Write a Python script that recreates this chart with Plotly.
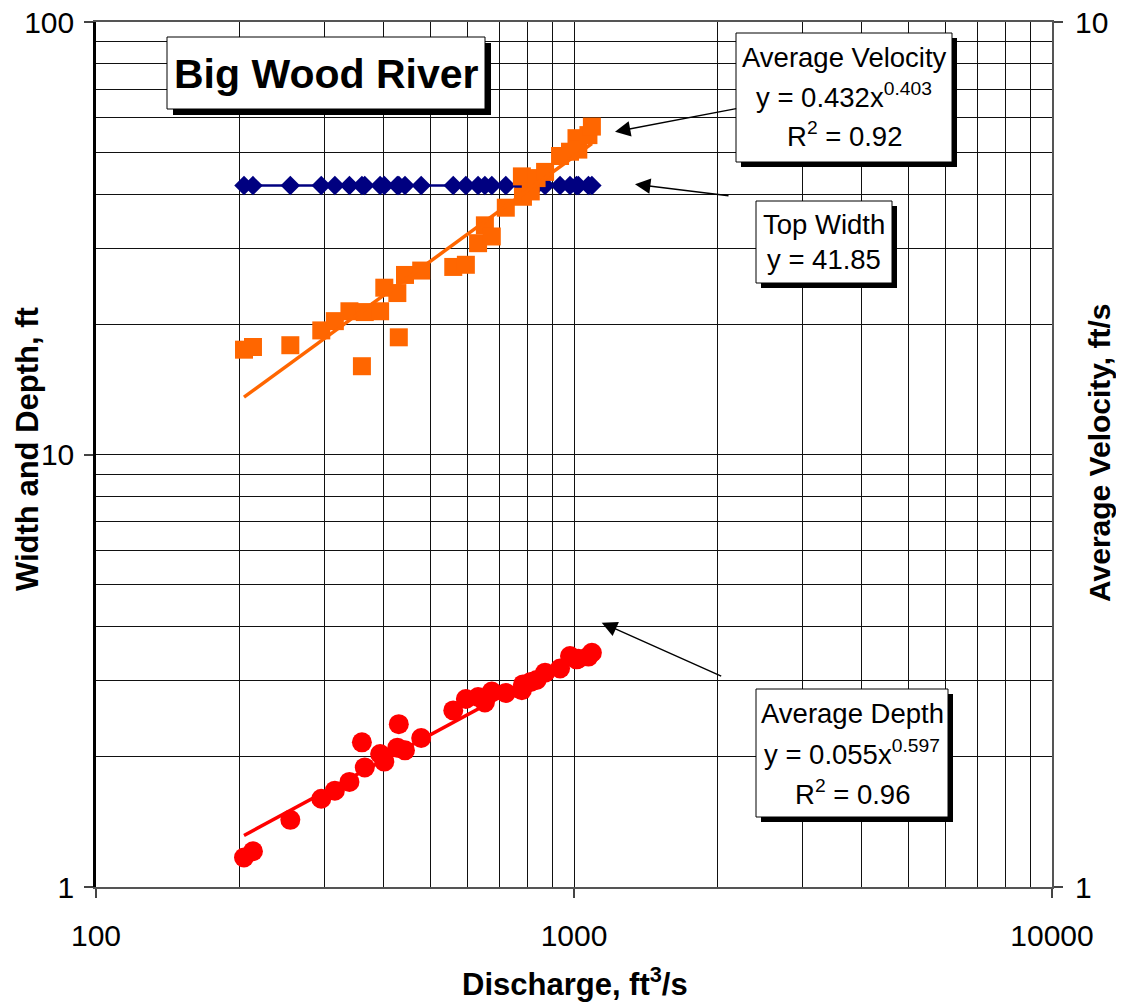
import plotly.graph_objects as go

# ---------------- data ----------------
discharge = [204, 213, 255, 296, 316, 339, 360, 365, 393, 401, 427, 430, 443, 479,
             559, 594, 630, 651, 673, 720, 778, 782, 812, 835, 870, 935, 981, 1012,
             1021, 1072, 1090]
top_width = [41.85] * len(discharge)
avg_depth = [1.17, 1.21, 1.43, 1.60, 1.67, 1.75, 2.16, 1.89, 2.03, 1.95, 2.10, 2.38, 2.07, 2.21,
             2.56, 2.72, 2.75, 2.67, 2.83, 2.81, 2.85, 2.94, 2.98, 3.01, 3.13, 3.20, 3.42, 3.36,
             3.37, 3.41, 3.48]
avg_velocity = [4.18, 4.21, 4.23, 4.40, 4.51, 4.63, 4.00, 4.62, 4.63, 4.93, 4.86, 4.32, 5.10, 5.16,
                5.21, 5.24, 5.55, 5.82, 5.65, 6.10, 6.63, 6.28, 6.37, 6.60, 6.71, 7.00, 7.08, 7.34,
                7.12, 7.40, 7.57]

# trend line coefficients shown on the chart (power fits)
vel_coef, vel_exp = 0.432, 0.403
dep_coef, dep_exp = 0.055, 0.597
trend_x = [min(discharge), max(discharge)]
vel_trend = [vel_coef * q ** vel_exp for q in trend_x]
dep_trend = [dep_coef * q ** dep_exp for q in trend_x]

x_major = [100, 1000, 10000]
x_minor = [200, 300, 400, 500, 600, 700, 800, 900, 2000, 3000, 4000, 5000, 6000, 7000, 8000, 9000]
y_major = [1, 10, 100]
y_minor = [2, 3, 4, 5, 6, 7, 8, 9, 20, 30, 40, 50, 60, 70, 80, 90]
y2_major = [1, 10]

# ---------------- geometry helpers ----------------
OFF = 8                       # page body margin added by the html page
W, H = 1124 - OFF, 1003 - OFF
# plot area in page pixels
L, R, T, B = 96, 1052, 22, 887


def px(x):
    return (x - L) / (R - L)


def py(y):
    return (B - y) / (B - T)


FONT = "Liberation Sans, Arial, sans-serif"
TICK = 30

fig = go.Figure()

fig.add_trace(go.Scatter(
    x=discharge, y=top_width, mode="lines+markers",
    line=dict(color="#000080", width=2.5),
    marker=dict(symbol="diamond", size=15, color="#000080"),
    showlegend=False))

fig.add_trace(go.Scatter(
    x=discharge, y=avg_depth, mode="markers",
    marker=dict(symbol="circle", size=20, color="#FF0000"),
    showlegend=False))

fig.add_trace(go.Scatter(
    x=trend_x, y=dep_trend, mode="lines",
    line=dict(color="#FF0000", width=3.5), showlegend=False))

fig.add_trace(go.Scatter(
    x=discharge, y=avg_velocity, mode="markers", yaxis="y2",
    marker=dict(symbol="square", size=18, color="#FF6600"),
    showlegend=False))

fig.add_trace(go.Scatter(
    x=trend_x, y=vel_trend, mode="lines", yaxis="y2",
    line=dict(color="#FF6600", width=3.5), showlegend=False))

grid_col = "#111111"

fig.update_layout(
    width=W, height=H,
    margin=dict(l=L - OFF, r=W - (R - OFF), t=T - OFF, b=H - (B - OFF), autoexpand=False),
    paper_bgcolor="white", plot_bgcolor="white",
    font=dict(family=FONT, size=TICK, color="black"),
    xaxis=dict(
        type="log", range=[2, 4], tickvals=x_major, ticktext=["100", "1000", "10000"],
        ticks="outside", ticklen=9, tickcolor="#444", tickwidth=1.5,
        showgrid=True, gridcolor=grid_col, gridwidth=1,
        minor=dict(tickvals=x_minor, showgrid=True, gridcolor=grid_col, gridwidth=1, ticks=""),
        showline=True, linecolor="#555", linewidth=2, mirror=True,
        zeroline=False, tickfont=dict(size=TICK), ticklabelstandoff=12,
        ticklabeloverflow="allow",
    ),
    yaxis=dict(
        type="log", range=[0, 2], tickvals=y_major, ticktext=["1", "10", "100"],
        ticks="outside", ticklen=9, tickcolor="#444", tickwidth=1.5,
        showgrid=True, gridcolor=grid_col, gridwidth=1,
        minor=dict(tickvals=y_minor, showgrid=True, gridcolor=grid_col, gridwidth=1, ticks=""),
        showline=True, linecolor="black", linewidth=2.5,
        zeroline=False, tickfont=dict(size=TICK), ticklabelstandoff=4,
        ticklabeloverflow="allow",
    ),
    yaxis2=dict(
        type="log", range=[0, 1], overlaying="y", side="right",
        tickvals=y2_major, ticktext=["1", "10"],
        ticks="outside", ticklen=9, tickcolor="#444", tickwidth=1.5,
        showgrid=False, showline=True, linecolor="#555", linewidth=2,
        zeroline=False, tickfont=dict(size=TICK), ticklabelstandoff=6,
        ticklabeloverflow="allow",
    ),
)

shapes = []
annotations = []


def box(x0, y0, x1, y1, off=5):
    shapes.append(dict(type="rect", xref="paper", yref="paper",
                       x0=px(x0 + off), x1=px(x1 + off), y0=py(y0 + off), y1=py(y1 + off),
                       fillcolor="black", line=dict(width=0), layer="above"))
    shapes.append(dict(type="rect", xref="paper", yref="paper",
                       x0=px(x0), x1=px(x1), y0=py(y0), y1=py(y1),
                       fillcolor="white", line=dict(color="black", width=1), layer="above"))


def label(text, x, y, size=27.5, bold=False, angle=0):
    if bold:
        text = "<b>" + text + "</b>"
    annotations.append(dict(text=text, xref="paper", yref="paper", x=px(x), y=py(y),
                            xanchor="center", yanchor="middle", showarrow=False,
                            textangle=angle,
                            font=dict(family=FONT, size=size, color="black")))


def arrow(hx, hy, tx, ty):
    annotations.append(dict(text="", xref="paper", yref="paper", x=px(hx), y=py(hy),
                            ax=tx - hx, ay=ty - hy, showarrow=True, arrowhead=2,
                            arrowsize=2.2, arrowwidth=1.4, arrowcolor="black", standoff=0))


# title box
box(167, 37, 485, 109, off=6)
label("Big Wood River", 326, 74, size=41, bold=True)

# velocity box
box(736, 33, 952, 162)
label("Average Velocity", 844, 57)
label("y = 0.432x<sup>0.403</sup>", 844, 96)
label("R<sup>2</sup> = 0.92", 844, 135)

# top width box
box(756, 201, 892, 283)
label("Top Width", 824, 224)
label("y = 41.85", 824, 259)

# depth box
box(756, 689, 948, 817)
label("Average Depth", 852, 713)
label("y = 0.055x<sup>0.597</sup>", 852, 752)
label("R<sup>2</sup> = 0.96", 852, 792)

arrow(615, 131.7, 737.7, 108.3)
arrow(635, 184.3, 730, 196)
arrow(601.7, 622.7, 722.7, 676.7)

# axis titles
label("Discharge, ft<sup>3</sup>/s", 575, 982, size=31, bold=True)
label("Width and Depth, ft", 27, 449, size=31, bold=True, angle=-90)
label("Average Velocity, ft/s", 1099, 453, size=30, bold=True, angle=-90)

fig.update_layout(shapes=shapes, annotations=annotations)

fig.write_html("out.html")
